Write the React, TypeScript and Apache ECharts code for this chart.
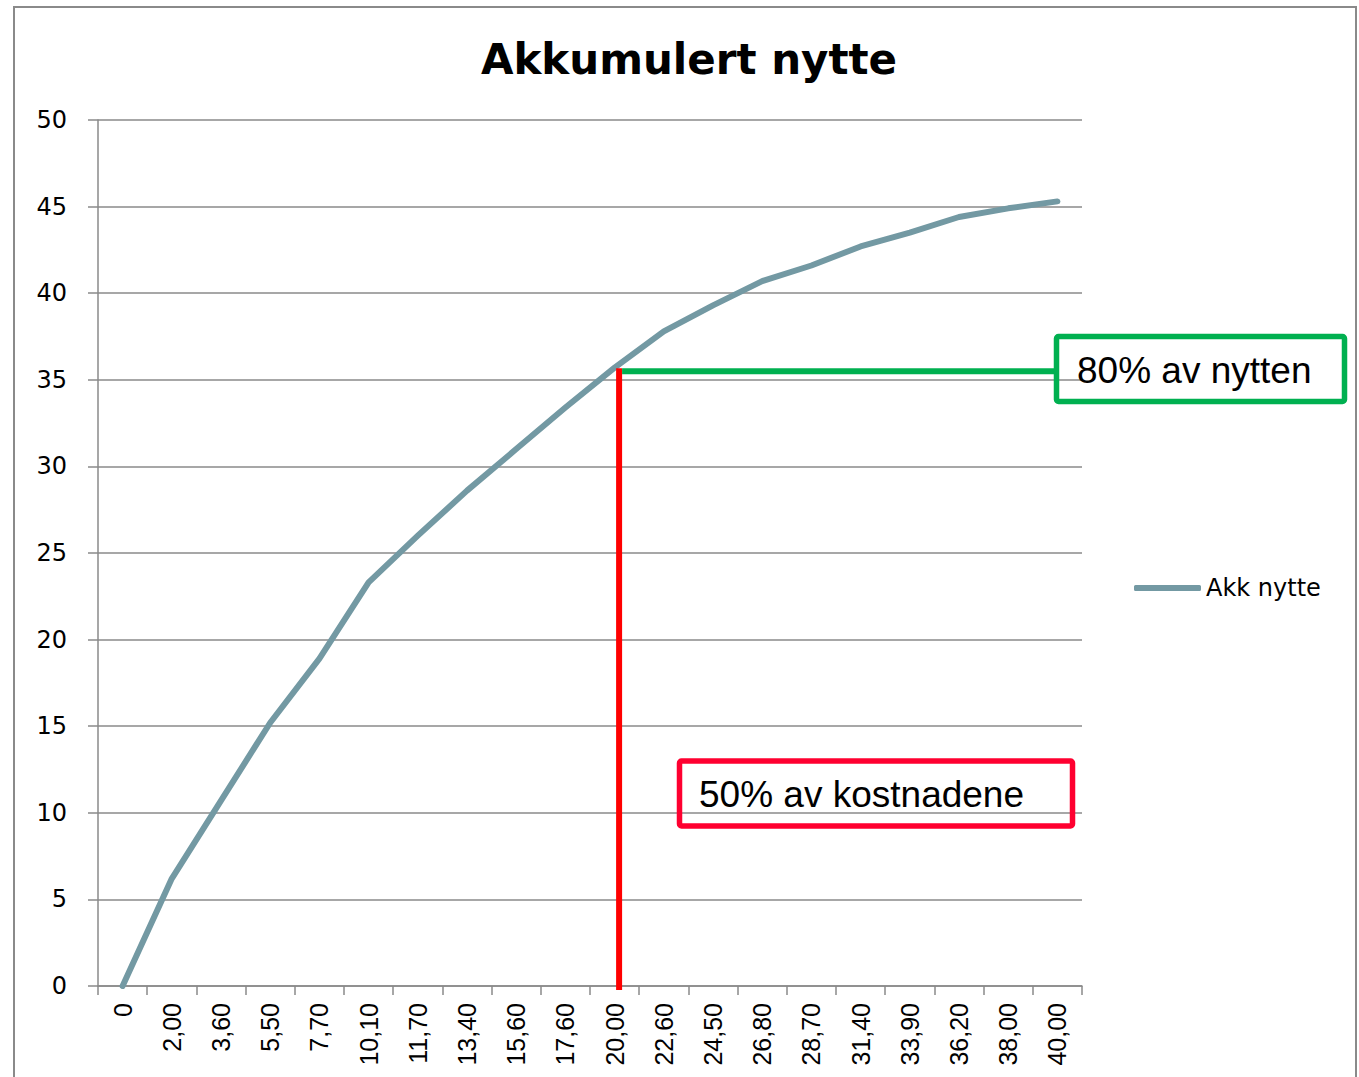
import React, { useEffect, useRef } from "react";
import * as echarts from "echarts";

const categories = [
  "0", "2,00", "3,60", "5,50", "7,70", "10,10", "11,70", "13,40", "15,60", "17,60",
  "20,00", "22,60", "24,50", "26,80", "28,70", "31,40", "33,90", "36,20", "38,00", "40,00",
];
const akkNytte = [
  0, 6.2, 10.7, 15.2, 18.9, 23.3, 26.0, 28.6, 31.0, 33.4,
  35.7, 37.8, 39.3, 40.7, 41.6, 42.7, 43.5, 44.4, 44.9, 45.3,
];
const seriesName = "Akk nytte";
const titleText = "Akkumulert nytte";
const markCategory = "20,00";
const markEndCategory = "40,00";
const markValue = 35.5;
const greenLabel = "80% av nytten";
const redLabel = "50% av kostnadene";

export default function App() {
  const ref = useRef<HTMLDivElement>(null);
  useEffect(() => {
    if (!ref.current) return;
    const chart = echarts.init(ref.current, null, { renderer: "svg" });
    const gray = "#8a8a8a";
    chart.setOption({
      animation: false,
      backgroundColor: "#ffffff",
      title: {
        text: titleText,
        left: 684,
        top: 34,
        textAlign: "center",
        textStyle: {
          fontFamily: "DejaVu Sans",
          fontWeight: "bold",
          fontSize: 42,
          lineHeight: 40,
          color: "#000",
        },
      },
      legend: {
        data: [seriesName],
        left: 1129,
        top: 571,
        icon: "roundRect",
        itemWidth: 67,
        itemHeight: 6,
        itemGap: 6,
        textStyle: { fontFamily: "DejaVu Sans", fontSize: 24, color: "#000" },
      },
      grid: { left: 98, top: 120, right: 277, bottom: 91, containLabel: false },
      xAxis: {
        type: "category",
        data: categories,
        boundaryGap: true,
        axisLine: { show: true, lineStyle: { color: gray, width: 1.5 } },
        axisTick: { show: true, length: 9, interval: 0, lineStyle: { color: gray, width: 1.5 } },
        axisLabel: {
          interval: 0,
          rotate: 90,
          margin: 17,
          fontFamily: "Liberation Sans",
          fontSize: 25,
          color: "#000",
        },
      },
      yAxis: {
        type: "value",
        min: 0,
        max: 50,
        interval: 5,
        axisLine: { show: true, lineStyle: { color: gray, width: 1.5 } },
        axisTick: { show: true, length: 10, lineStyle: { color: gray, width: 1.5 } },
        splitLine: { show: true, lineStyle: { color: gray, width: 1.5 } },
        axisLabel: {
          margin: 31,
          fontFamily: "DejaVu Sans",
          fontSize: 24,
          color: "#000",
        },
      },
      series: [
        {
          name: seriesName,
          type: "line",
          data: akkNytte,
          showSymbol: false,
          symbol: "none",
          lineStyle: { color: "#7399A3", width: 6, cap: "round", join: "round" },
          itemStyle: { color: "#7399A3" },
          z: 3,
        },
      ],
      graphic: [
        {
          id: "frame",
          type: "rect",
          shape: { x: 14, y: 7, width: 1342, height: 1080 },
          style: { fill: "none", stroke: gray, lineWidth: 2 },
          silent: true,
          z: 0,
        },
        {
          id: "greenBox",
          type: "rect",
          shape: { x: 1056.5, y: 336.5, width: 288, height: 65, r: 2 },
          style: { fill: "none", stroke: "#00b050", lineWidth: 5.5 },
          z: 10,
        },
        {
          id: "greenText",
          type: "text",
          x: 1077,
          y: 370,
          style: {
            text: greenLabel,
            fontFamily: "Liberation Sans, Arial",
            fontSize: 37,
            fill: "#000",
            textAlign: "left",
            textVerticalAlign: "middle",
          },
          z: 10,
        },
        {
          id: "redBox",
          type: "rect",
          shape: { x: 679.5, y: 761, width: 393, height: 65, r: 2 },
          style: { fill: "none", stroke: "#ff0030", lineWidth: 5.5 },
          z: 10,
        },
        {
          id: "redText",
          type: "text",
          x: 699,
          y: 794,
          style: {
            text: redLabel,
            fontFamily: "Liberation Sans, Arial",
            fontSize: 37,
            fill: "#000",
            textAlign: "left",
            textVerticalAlign: "middle",
          },
          z: 10,
        },
      ],
    });

    // marker lines positioned through the chart's own scales
    const pBase = chart.convertToPixel({ gridIndex: 0 }, [markCategory, 0]) as number[];
    const pTop = chart.convertToPixel({ gridIndex: 0 }, [markCategory, markValue]) as number[];
    const pEnd = chart.convertToPixel({ gridIndex: 0 }, [markEndCategory, markValue]) as number[];
    const dx = 4.5;
    chart.setOption({
      graphic: [
        {
          id: "redLine",
          type: "line",
          shape: { x1: pBase[0] + dx, y1: pBase[1] + 4, x2: pTop[0] + dx, y2: pTop[1] - 3 },
          style: { stroke: "#ff0000", lineWidth: 6 },
          z: 5,
        },
        {
          id: "greenLine",
          type: "line",
          shape: { x1: pTop[0] + dx + 3, y1: pTop[1], x2: pEnd[0], y2: pEnd[1] },
          style: { stroke: "#00b050", lineWidth: 6 },
          z: 5,
        },
      ],
    });
    return () => chart.dispose();
  }, []);
  return (
    <div
      ref={ref}
      style={{ position: "fixed", left: 0, top: 0, width: 1359, height: 1077 }}
    />
  );
}
